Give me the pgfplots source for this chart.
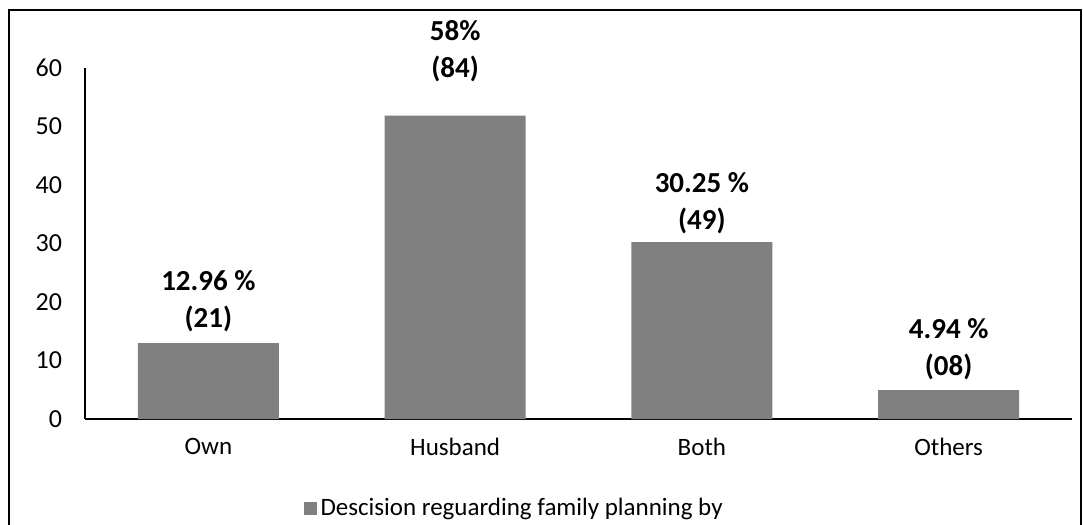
\documentclass[border=0pt]{standalone}
\usepackage{fontspec}
\setmainfont{Carlito}
\usepackage{pgfplots}
\pgfplotsset{compat=1.18}
\definecolor{bargray}{HTML}{808080}
\begin{document}
\begin{tikzpicture}
\useasboundingbox (-42.5pt,-53pt) rectangle (499pt,209.5pt);
\draw[line width=1pt] (-38pt,-60pt) rectangle (498pt,204.5pt);
\begin{axis}[
  at={(0pt,0pt)}, anchor=south west,
  scale only axis,
  width=493.5pt, height=175.5pt,
  xmin=-0.5, xmax=3.5, ymin=0, ymax=60,
  axis x line*=bottom, axis y line*=left,
  axis line style={line width=0.7pt, black},
  xtick={0,1,2,3},
  xticklabels={Own,Husband,Both,Others},
  ytick={0,10,20,30,40,50,60},
  major tick length=0pt,
  ticklabel style={font=\fontsize{12.5}{15}\selectfont},
  yticklabel style={font=\fontsize{13}{15}\selectfont, xshift=-8pt},
  /pgf/number format/assume math mode=true,
  xticklabel style={yshift=-6pt},
  clip=false,
  legend style={at={(0.221,-0.2536)}, anchor=west, draw=none,
    font=\fontsize{12.5}{15}\selectfont, inner sep=0pt},
  legend image code/.code={\fill[#1] (0pt,-3.25pt) rectangle (6.5pt,3.25pt);},
]
\addplot[ybar, bar width=70.5pt, fill=bargray, draw=none] coordinates {(0,12.96) (1,51.85) (2,30.25) (3,4.94)};
\addlegendentry{Descision reguarding family planning by}
\begin{scope}[every node/.style={anchor=south, align=center, font=\fontsize{14.5}{18.5}\bfseries\selectfont, inner sep=0pt}]
\node at (axis cs:0,14.87) {12.96 \%\\(21)};
\node at (axis cs:1,57.6) {58\%\\(84)};
\node at (axis cs:2,31.6) {30.25 \%\\(49)};
\node at (axis cs:3,6.67) {4.94 \%\\(08)};
\end{scope}
\end{axis}
\end{tikzpicture}
\end{document}
